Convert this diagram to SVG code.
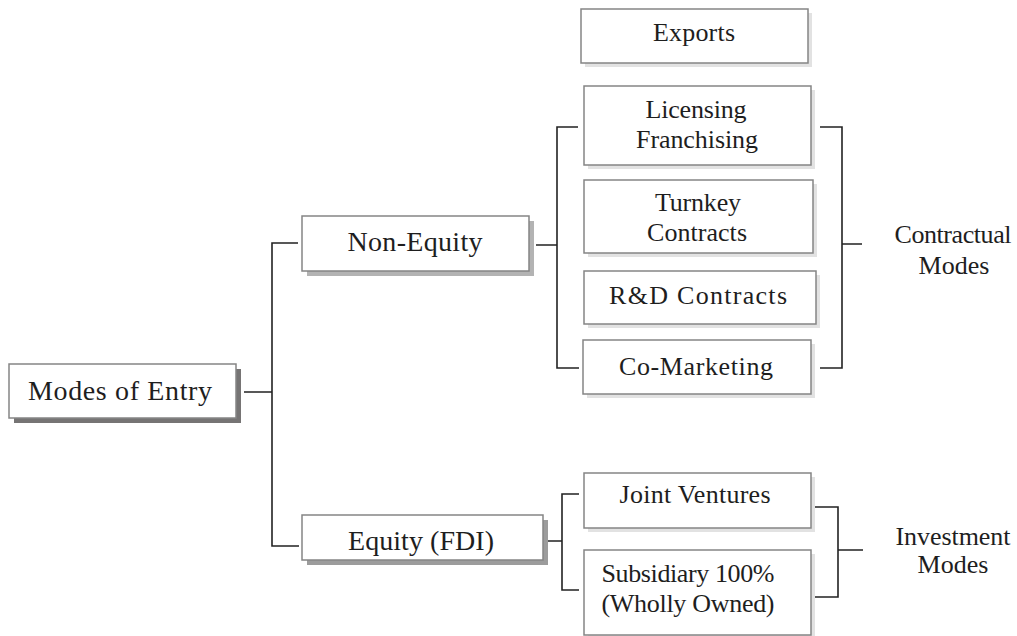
<svg xmlns="http://www.w3.org/2000/svg" width="1017" height="636" viewBox="0 0 1017 636">
<style>
.box{fill:#fff;stroke:#858585;stroke-width:1.5}
.sh{fill:#e2e2e2}
.t{font-family:"Liberation Serif","Times New Roman",serif;fill:#1e1e1e;text-anchor:middle}
.m{font-size:28px}
.s{font-size:26px}
.c{fill:none;stroke:#222;stroke-width:1.6}
</style>
<rect width="1017" height="636" fill="#fff"/>
<g id="connectors">
<path class="c" d="M244 392H272M298 243H272V546H299"/>
<path class="c" d="M536 245H557M578 127H557V368H579"/>
<path class="c" d="M820 127H842V368H820M842 244H862"/>
<path class="c" d="M543 541H562M579 494H562V590H579"/>
<path class="c" d="M813 507H838V597H813M838 550H863"/>
</g>
<g id="modes-of-entry">
<rect x="14" y="369" width="227" height="54" fill="#767474"/>
<rect class="box" x="9" y="364" width="227" height="54"/>
<text class="t m" x="120" y="400" textLength="184">Modes of Entry</text>
</g>
<g id="non-equity">
<rect x="307" y="221" width="227" height="55" fill="#b3b3b3"/>
<rect class="box" x="302" y="216" width="227" height="55"/>
<text class="t m" x="415" y="251" textLength="135">Non-Equity</text>
</g>
<g id="equity">
<rect x="307" y="520" width="241" height="45" fill="#9c9c9c"/>
<rect class="box" x="302" y="515" width="241" height="45"/>
<text class="t m" x="421" y="550" textLength="146">Equity (FDI)</text>
</g>
<g id="exports">
<rect class="sh" x="585" y="13" width="227" height="54"/>
<rect class="box" x="581" y="9" width="227" height="54"/>
<text class="t s" x="694" y="41" textLength="82">Exports</text>
</g>
<g id="licensing">
<rect class="sh" x="588" y="90" width="227" height="79"/>
<rect class="box" x="584" y="86" width="227" height="79"/>
<text class="t s" x="696" y="118" textLength="101">Licensing</text>
<text class="t s" x="697" y="148" textLength="122">Franchising</text>
</g>
<g id="turnkey">
<rect class="sh" x="588" y="184" width="229" height="73"/>
<rect class="box" x="584" y="180" width="229" height="73"/>
<text class="t s" x="698" y="211" textLength="86">Turnkey</text>
<text class="t s" x="697" y="241" textLength="100">Contracts</text>
</g>
<g id="rd-contracts">
<rect class="sh" x="588" y="275" width="232" height="53"/>
<rect class="box" x="584" y="271" width="232" height="53"/>
<text class="t s" x="698" y="304" textLength="178">R&amp;D Contracts</text>
</g>
<g id="co-marketing">
<rect class="sh" x="587" y="344" width="228" height="54"/>
<rect class="box" x="583" y="340" width="228" height="54"/>
<text class="t s" x="696" y="375" textLength="154">Co-Marketing</text>
</g>
<g id="joint-ventures">
<rect class="sh" x="588" y="477" width="227" height="55"/>
<rect class="box" x="584" y="473" width="227" height="55"/>
<text class="t s" x="695" y="503" textLength="151">Joint Ventures</text>
</g>
<g id="subsidiary">
<rect class="sh" x="588" y="554" width="227" height="85"/>
<rect class="box" x="584" y="550" width="227" height="85"/>
<text class="t s" x="688" y="582" textLength="173">Subsidiary 100%</text>
<text class="t s" x="688" y="612" textLength="173">(Wholly Owned)</text>
</g>
<g id="contractual-modes">
<text class="t s" x="953" y="243" textLength="117">Contractual</text>
<text class="t s" x="954" y="274">Modes</text>
</g>
<g id="investment-modes">
<text class="t s" x="953" y="545" textLength="115">Investment</text>
<text class="t s" x="953" y="573">Modes</text>
</g>
</svg>
